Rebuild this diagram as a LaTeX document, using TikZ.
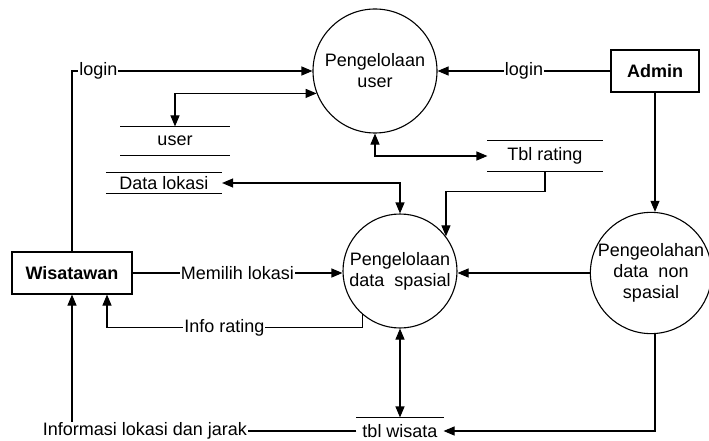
\documentclass[tikz,border=0pt]{standalone}
\usepackage{fontspec}
\setmainfont{Liberation Sans}
\usetikzlibrary{positioning, arrows.meta, calc}

\begin{document}
\begin{tikzpicture}[x=1pt, y=-1pt, line width=1.1pt,
    font=\fontsize{18}{21}\selectfont,
    >={Triangle[length=11pt, width=9pt]},
    process/.style={circle, draw, align=center, inner sep=0pt, minimum size=#1},
    entity/.style={rectangle, draw, font=\fontsize{18}{21}\selectfont\bfseries,
      minimum width=#1, minimum height=42pt},
    datastore/.style={inner sep=0pt, minimum width=#1},
    lbl/.style={fill=white, inner sep=1pt}]
        \useasboundingbox (0,0) rectangle (709,441);

        % PROCESSES
        \node[process=124pt] (pUser) at (375,71) {Pengelolaan\\user};
        \node[process=114pt] (pSpasial) at (400,271) {Pengelolaan\\data\ \ spasial};
        \node[process=116pt] (pNonSpasial) at (651,273) {Pengeolahan\\data\ \ non\\spasial};

        % ENTITIES
        \node[entity=120pt] (wisatawan) at (72,273) {Wisatawan};
        \node[entity=88pt] (admin) at (655,71) {Admin};

        % DATA STORES
        \node[datastore=108pt, minimum height=28pt] (sUser) at (175,141) {user};
        \node[datastore=115pt, minimum height=20pt] (sLokasi) at (164,183) {Data lokasi};
        \node[datastore=114pt, minimum height=30pt] (sRating) at (545,156) {Tbl rating};
        \node[datastore=86pt, minimum height=26pt] (sWisata) at (400,431) {tbl wisata};

        \foreach \s in {sUser, sLokasi, sRating}
          \draw (\s.north west) -- (\s.north east) (\s.south west) -- (\s.south east);
        \draw (sWisata.north west) -- (sWisata.north east);

        % FLOWS
        \draw[->] (wisatawan.north) |- node[lbl, pos=0.555] {login} (pUser.west);
        \draw[->] (admin.west) -- node[lbl] {login} (pUser.east);
        \draw[<->] (sUser.north) |- (pUser.201);
        \draw[<->] (pUser.south) |- (sRating.west);
        \draw[<->] (sLokasi.east) -| (pSpasial.north);
        \draw[->] (sRating.south) -- ++(0,20) -| (pSpasial.37);
        \draw[->] (wisatawan.east) -- node[lbl] {Memilih lokasi} (wisatawan.east -| pSpasial.west);
        \draw[->] (pSpasial.229) -- ++(0,13) -| node[lbl, pos=0.27] {Info rating} ([xshift=35pt]wisatawan.south);
        \draw[<->] (pSpasial.south) -- (sWisata.north);
        \draw[->] (pNonSpasial.west) -- (pNonSpasial.west -| pSpasial.east);
        \draw[->] (admin.south) -- (admin.south |- pNonSpasial.north);
        \draw[->] (pNonSpasial.south -| admin.south) |- (sWisata.east);
        \draw[->] (sWisata.west) -| node[lbl, pos=0.372] {Informasi lokasi dan jarak} (wisatawan.south);
    \end{tikzpicture}
\end{document}
